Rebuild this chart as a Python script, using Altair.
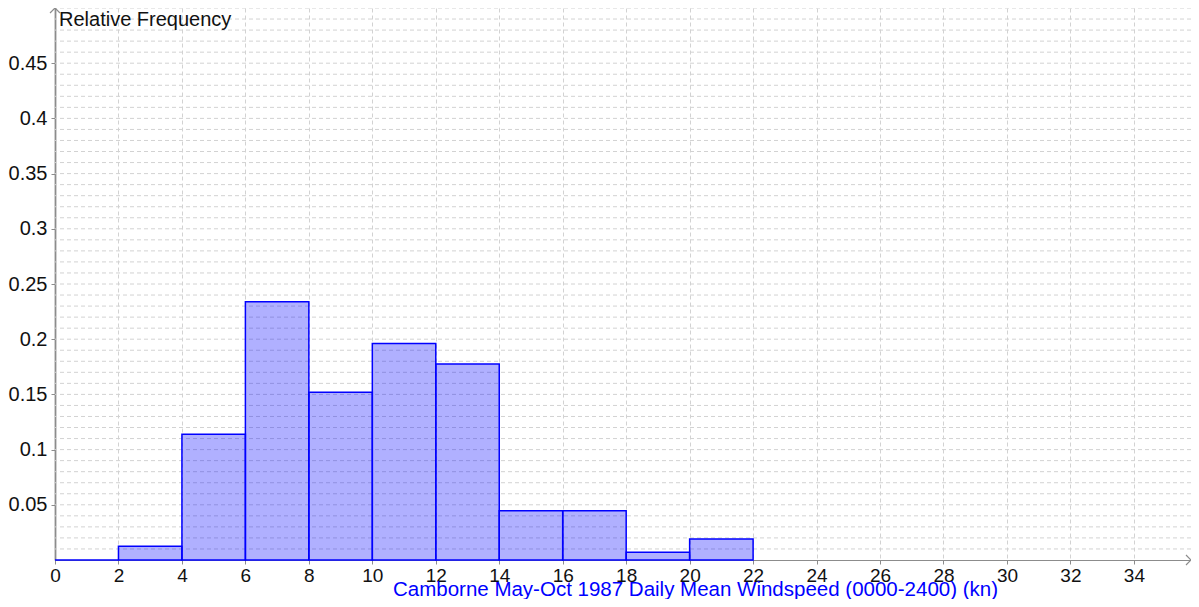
import altair as alt
import pandas as pd

# Histogram data
bin_start = [0, 2, 4, 6, 8, 10, 12, 14, 16, 18, 20]
bin_end = [2, 4, 6, 8, 10, 12, 14, 16, 18, 20, 22]
rel_freq = [0.0, 0.0125, 0.114, 0.234, 0.152, 0.196, 0.1775, 0.0445, 0.0445, 0.007, 0.019]

x_ticks = [0, 2, 4, 6, 8, 10, 12, 14, 16, 18, 20, 22, 24, 26, 28, 30, 32, 34]
y_ticks = [0.05, 0.1, 0.15, 0.2, 0.25, 0.3, 0.35, 0.4, 0.45]
y_grid = [round(0.01 * i, 2) for i in range(1, 51)]

X_MAX = 35.8
Y_MAX = 0.5

bars_df = pd.DataFrame({"start": bin_start, "end": bin_end, "freq": rel_freq})
grid_df = pd.DataFrame({"g": y_grid})
arrow_df = pd.DataFrame({"ax": [0, X_MAX], "ay": [Y_MAX, 0], "which": ["y", "x"]})

FONT = "Liberation Sans"
GRID = "#d2d2d2"
AXIS = "#8c8c8c"

x_scale = alt.Scale(domain=[0, X_MAX], nice=False, zero=False)
y_scale = alt.Scale(domain=[0, Y_MAX], nice=False)

x_axis = alt.Axis(
    values=x_ticks, grid=True, gridColor=GRID, gridDash=[4, 3], gridWidth=1,
    domainColor=AXIS, domainWidth=1.2, tickColor=AXIS, tickSize=4,
    labelFont=FONT, labelFontSize=19, labelColor="#111", labelPadding=2,
    labelFlush=False, labelOverlap=False,
    title="Camborne May-Oct 1987 Daily Mean Windspeed (0000-2400) (kn)",
    titleFont=FONT, titleFontSize=20.5, titleFontWeight="normal", titleColor="#0000ff",
    titleX=640, titleY=35, titleBaseline="alphabetic", titleAlign="center",
)
y_axis = alt.Axis(
    values=y_ticks, grid=False, format=".2~f",
    domainColor=AXIS, domainWidth=1.8, tickColor=AXIS, tickSize=4,
    labelFont=FONT, labelFontSize=20, labelColor="#111", labelPadding=4,
    labelFlush=False, labelOverlap=False, title=None,
)

hgrid = alt.Chart(grid_df).mark_rule(color=GRID, strokeDash=[4, 3], strokeWidth=1).encode(
    y=alt.Y("g:Q", scale=y_scale, axis=y_axis),
)

bars = alt.Chart(bars_df).mark_rect(
    fill="#0000ff", fillOpacity=0.31, stroke="#0000ff", strokeWidth=1.5
).encode(
    x=alt.X("start:Q", scale=x_scale, axis=x_axis),
    x2="end:Q",
    y=alt.Y("freq:Q", scale=y_scale, axis=y_axis),
    y2=alt.datum(0),
)

arrow_y = alt.Chart(arrow_df[arrow_df["which"] == "y"]).mark_point(
    shape="M-1,1L0,0L1,1", filled=False, stroke=AXIS, strokeWidth=1.2, size=100, opacity=1
).encode(
    x=alt.X("ax:Q", scale=x_scale, axis=x_axis),
    y=alt.Y("ay:Q", scale=y_scale, axis=y_axis),
)
arrow_x = alt.Chart(arrow_df[arrow_df["which"] == "x"]).mark_point(
    shape="M-1,-1L0,0L-1,1", filled=False, stroke=AXIS, strokeWidth=1.2, size=100, opacity=1
).encode(
    x=alt.X("ax:Q", scale=x_scale, axis=x_axis),
    y=alt.Y("ay:Q", scale=y_scale, axis=y_axis),
)

ylabel = alt.Chart(pd.DataFrame({"t": ["Relative Frequency"]})).mark_text(
    align="left", baseline="alphabetic", font=FONT, fontSize=20, color="#111"
).encode(x=alt.value(4), y=alt.value(18), text="t:N")

chart = alt.layer(hgrid, bars, arrow_y, arrow_x, ylabel).properties(
    width=1136, height=552,
    autosize=alt.AutoSizeParams(type="none"),
    padding={"left": 47, "top": 0, "right": 0, "bottom": 39},
).configure_view(stroke=None)

chart.save("out.html", embed_options={"renderer": "svg", "actions": False})
